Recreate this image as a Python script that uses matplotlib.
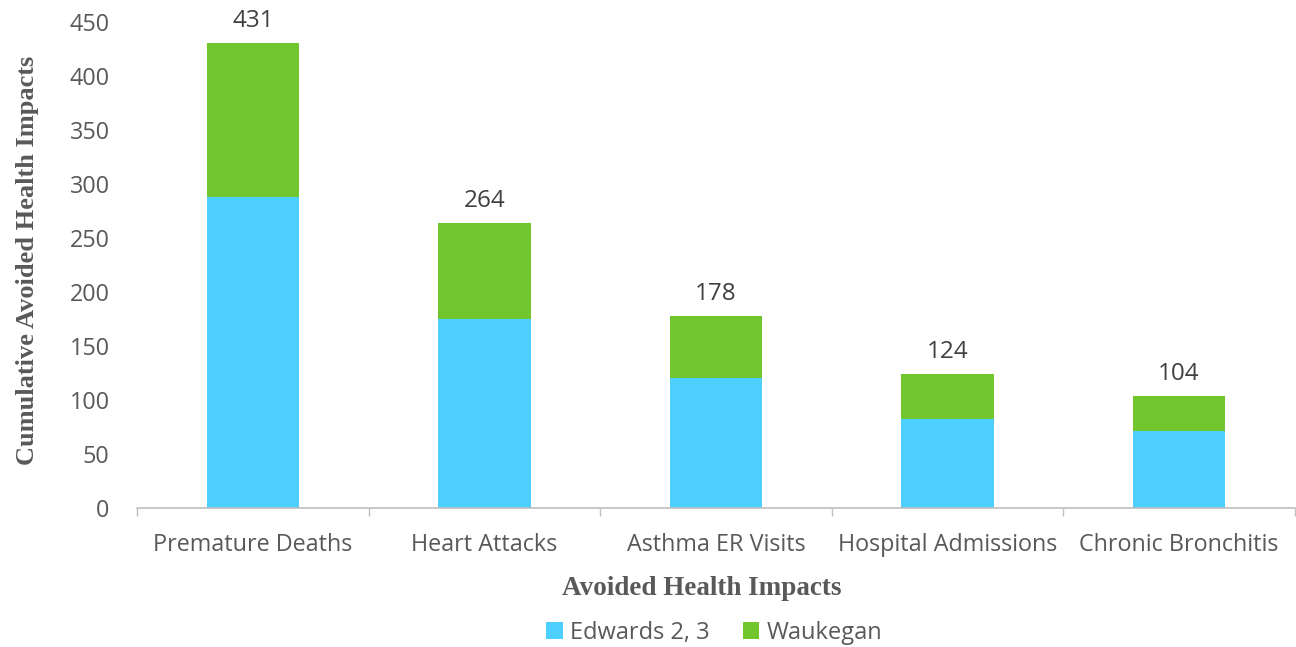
import matplotlib
matplotlib.use("Agg")
import matplotlib.pyplot as plt
import numpy as np

categories = ["Premature Deaths", "Heart Attacks", "Asthma ER Visits",
              "Hospital Admissions", "Chronic Bronchitis"]
edwards = [288, 175, 120, 82, 71]
waukegan = [143, 89, 58, 42, 33]
totals = [431, 264, 178, 124, 104]

BLUE = "#4DCFFF"
GREEN = "#70C62C"
GRAY = "#595959"

fig = plt.figure(figsize=(12.96, 6.47), dpi=100)
ax = fig.add_axes([0.106, 0.215, 0.893, 0.751])

x = np.arange(len(categories))
ax.bar(x, edwards, width=0.4, color=BLUE, label="Edwards 2, 3")
ax.bar(x, waukegan, width=0.4, bottom=edwards, color=GREEN, label="Waukegan")

# totals on top of each stack
for xi, t in zip(x, totals):
    ax.text(xi, t + 9, str(t), ha="center", va="bottom",
            fontsize=17.5, color="#404040", family="Open Sans")

ax.set_xlim(-0.5, len(categories) - 0.5)
ax.set_ylim(0, 450)
ax.set_yticks(np.arange(0, 451, 50))
ax.set_xticks(x)
ax.set_xticklabels(categories)
ax.set_xticks(np.arange(-0.5, len(categories)), minor=True)
ax.tick_params(axis="x", which="major", length=0, pad=18)
ax.tick_params(axis="x", which="minor", length=6, color="#BFBFBF", width=1)
ax.tick_params(axis="y", length=0, pad=20)
for lab in ax.get_xticklabels() + ax.get_yticklabels():
    lab.set_fontsize(16.8)
    lab.set_color(GRAY)
    lab.set_family("Open Sans")

for s in ["top", "right", "left"]:
    ax.spines[s].set_visible(False)
ax.spines["bottom"].set_color("#BFBFBF")
ax.spines["bottom"].set_linewidth(1.2)

ax.set_xlabel("Avoided Health Impacts", fontsize=19.5, fontweight="bold",
              color=GRAY, family="Liberation Serif")
ax.xaxis.set_label_coords(0.488, -0.14)
ax.set_ylabel("Cumulative Avoided Health Impacts", fontsize=19, fontweight="bold",
              color=GRAY, family="Liberation Serif")
ax.yaxis.set_label_coords(-0.085, 0.51)

leg = fig.legend(loc="center", bbox_to_anchor=(0.551, 0.022), ncol=2, frameon=False,
                 handlelength=0.7, handleheight=0.7, handletextpad=0.3,
                 columnspacing=1.4, prop={"family": "Open Sans", "size": 17})
for t in leg.get_texts():
    t.set_color(GRAY)

fig.savefig("out.png", dpi=100)
